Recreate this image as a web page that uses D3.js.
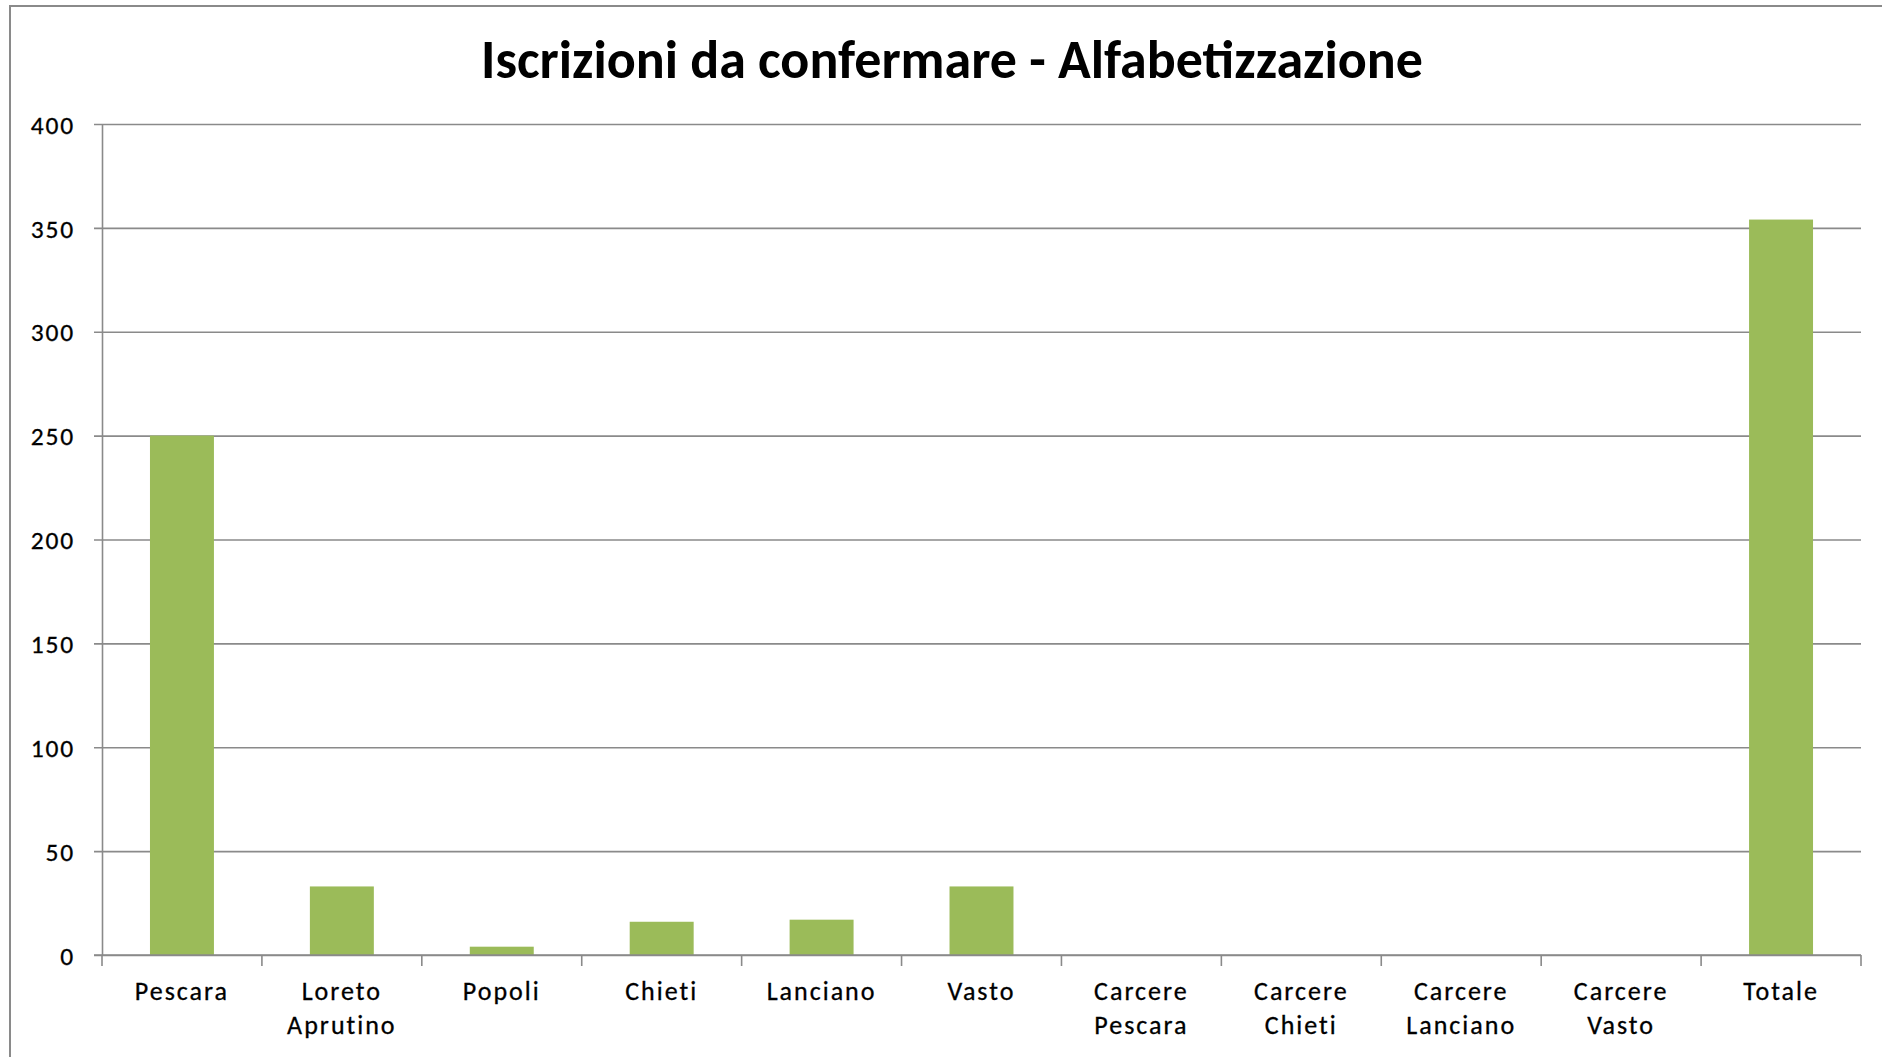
<!DOCTYPE html>
<html>
<head>
<meta charset="utf-8">
<script src="https://cdn.jsdelivr.net/npm/d3@7"></script>
<style>
  html, body { margin: 0; padding: 0; background: #fff; overflow: hidden; }
  svg { display: block; }
  text { font-family: Carlito, Calibri, Lato, sans-serif; fill: #000; }
</style>
</head>
<body>
<svg id="chart" width="1882" height="1057"></svg>
<script>
// ---- data ----
const titleText = "Iscrizioni da confermare - Alfabetizzazione";
const categories = [
  ["Pescara"], ["Loreto", "Aprutino"], ["Popoli"], ["Chieti"], ["Lanciano"], ["Vasto"],
  ["Carcere", "Pescara"], ["Carcere", "Chieti"], ["Carcere", "Lanciano"], ["Carcere", "Vasto"], ["Totale"]
];
const values = [250, 33, 4, 16, 17, 33, 0, 0, 0, 0, 354];
const yTicks = [0, 50, 100, 150, 200, 250, 300, 350, 400];

// ---- layout ----
const W = 1882, H = 1057;
const plot = { left: 102, right: 1861, top: 124, bottom: 955 };
const gridColor = "#8a8a8a";
const barColor = "#9BBB59";

const svg = d3.select("#chart");

// chart frame (extends beyond bottom/right edge of the picture)
svg.append("rect")
  .attr("x", 10).attr("y", 6)
  .attr("width", W + 20).attr("height", H + 20)
  .attr("fill", "#fff").attr("stroke", gridColor).attr("stroke-width", 2);

const keys = categories.map((c, i) => i);
const x = d3.scaleBand().domain(keys).range([plot.left, plot.right])
  .paddingInner(0.6).paddingOuter(0.3);
const y = d3.scaleLinear().domain([0, 400]).range([plot.bottom, plot.top]);

// gridlines + y axis
const yAxis = d3.axisLeft(y).tickValues(yTicks)
  .tickSize(-(plot.right - plot.left)).tickSizeOuter(0).tickPadding(0)
  .tickFormat(d3.format("d"));
const gy = svg.append("g").attr("transform", `translate(${plot.left},0)`).call(yAxis);
gy.select(".domain").attr("stroke", gridColor).attr("stroke-width", 1.6);
gy.selectAll(".tick line").attr("stroke", gridColor).attr("stroke-width", 1.6)
  .attr("x1", -8);
gy.selectAll(".tick text")
  .attr("x", -27)
  .attr("dy", "0.36em")
  .style("font-size", "25.5px")
  .style("letter-spacing", "1.8px")
  .style("font-family", "Carlito, Calibri, Lato, sans-serif")
  .style("stroke", "#000").style("stroke-width", 0.3)
  .attr("fill", "#000");

// bars
svg.append("g").selectAll("rect")
  .data(values)
  .join("rect")
  .attr("x", (d, i) => x(i))
  .attr("width", x.bandwidth())
  .attr("y", d => y(d))
  .attr("height", d => y(0) - y(d))
  .attr("fill", barColor);

// x axis with category boundary ticks
const boundaries = d3.range(categories.length + 1);
const xb = d3.scaleLinear().domain([0, categories.length]).range([plot.left, plot.right]);
const gx = svg.append("g").attr("transform", `translate(0,${plot.bottom})`);
gx.append("line").attr("x1", plot.left - 8).attr("x2", plot.right)
  .attr("stroke", gridColor).attr("stroke-width", 1.6);
gx.selectAll("line.tk").data(boundaries).join("line").attr("class", "tk")
  .attr("x1", d => xb(d)).attr("x2", d => xb(d))
  .attr("y1", 0).attr("y2", 11)
  .attr("stroke", gridColor).attr("stroke-width", 1.6);

// category labels
const lbl = svg.append("g").selectAll("text")
  .data(categories)
  .join("text")
  .attr("text-anchor", "middle")
  .style("font-size", "26px")
  .style("letter-spacing", "2px")
  .style("stroke", "#000").style("stroke-width", 0.3);
lbl.each(function(lines, i) {
  const t = d3.select(this);
  const cx = x(i) + x.bandwidth() / 2;
  lines.forEach((ln, j) => {
    t.append("tspan").attr("x", cx).attr("y", 1000 + j * 33.5).text(ln);
  });
});

// title
svg.append("text")
  .attr("x", 952).attr("y", 78)
  .attr("text-anchor", "middle")
  .style("font-size", "54px")
  .style("font-weight", "bold")
  .text(titleText);
</script>
</body>
</html>
